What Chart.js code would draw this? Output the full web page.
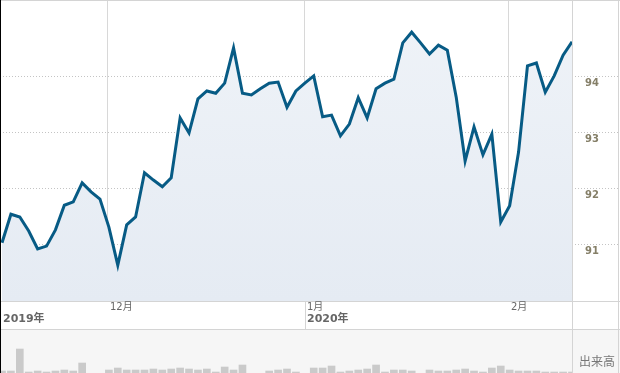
<!DOCTYPE html>
<html lang="ja">
<head>
<meta charset="utf-8">
<title>チャート</title>
<script src="https://cdn.jsdelivr.net/npm/chart.js@4.4.1/dist/chart.umd.min.js"></script>
<style>
    html, body { margin: 0; padding: 0; background: #fff; }
    #wrap { position: relative; width: 620px; height: 373px; overflow: hidden; }
    #priceCanvas { position: absolute; left: 0; top: 0; }
    #volCanvas { position: absolute; left: 0; top: 329px; background: #f6f6f6; }
    #leftEdge { position: absolute; left: 0; top: 0; width: 1px; height: 373px; background: #000; }
</style>
</head>
<body>
<div id="wrap">
    <canvas id="priceCanvas" width="620" height="329"></canvas>
    <canvas id="volCanvas" width="620" height="44"></canvas>
    <div id="leftEdge"></div>
</div>
<script>
// 終値 (営業日ごと)
const closes = [
    91.04, 91.55, 91.50, 91.25, 90.93, 90.98, 91.27, 91.71, 91.77, 92.11,
    91.95, 91.82, 91.32, 90.64, 91.36, 91.50, 92.29, 92.16, 92.04, 92.20,
    93.27, 93.00, 93.61, 93.75, 93.71, 93.89, 94.52, 93.71, 93.68, 93.79,
    93.89, 93.91, 93.46, 93.75, 93.89, 94.02, 93.29, 93.32, 92.95, 93.16,
    93.63, 93.27, 93.79, 93.89, 93.96, 94.61, 94.80, 94.61, 94.41, 94.57,
    94.48, 93.64, 92.50, 93.11, 92.61, 92.98, 91.41, 91.70, 92.66, 94.20,
    94.25, 93.73, 94.02, 94.39, 94.63
];

// 出来高
const volumes = [
    9, 9, 31, 8, 9, 8, 9, 10, 9, 17,
    5, 5, 10, 12, 10, 10, 10, 11, 10, 11,
    12, 11, 10, 11, 8, 13, 10, 15, 5, 5,
    9, 10, 11, 8, 5, 12, 12, 14, 8, 9,
    10, 11, 15, 8, 10, 10, 9, 5, 10, 9,
    9, 10, 11, 9, 8, 12, 14, 10, 9, 9,
    9, 8, 8, 8, 8
];

// 目盛り
const priceTicks = [91, 92, 93, 94];
const monthTicks = [11.9, 34, 56.9];
const monthLabels = ['12月', '1月', '2月'];
const yearTicks = [-0.225, 34];
const yearLabels = ['2019年', '2020年'];

const xMin = -0.225;
const xMax = 64;

const jpFont = '"DejaVu Sans", "Noto Sans CJK JP", sans-serif';

// 枠線とラベル (価格チャート)
const priceDecor = {
    id: 'priceDecor',
    afterDraw(chart) {
        const ctx = chart.ctx;
        const area = chart.chartArea;
        const xs = chart.scales.x;
        const ys = chart.scales.y;
        const W = chart.width;
        const H = chart.height;
        ctx.save();

        ctx.strokeStyle = '#d4d4d4';
        ctx.lineWidth = 1;
        ctx.setLineDash([]);
        ctx.beginPath();
        ctx.moveTo(0, 0.5); ctx.lineTo(W, 0.5);
        ctx.moveTo(0, area.bottom + 0.5); ctx.lineTo(W, area.bottom + 0.5);
        ctx.moveTo(area.right + 0.5, 0); ctx.lineTo(area.right + 0.5, H);
        ctx.moveTo(W - 1.5, 0); ctx.lineTo(W - 1.5, H);
        // 年の区切り線
        yearTicks.slice(1).forEach(v => {
            const px = Math.round(xs.getPixelForValue(v)) + 0.5;
            ctx.moveTo(px, area.bottom); ctx.lineTo(px, H);
        });
        ctx.stroke();

        // 右側の価格ラベル
        ctx.fillStyle = '#857f68';
        ctx.font = 'bold 10px "DejaVu Sans", sans-serif';
        ctx.textAlign = 'left';
        ctx.textBaseline = 'middle';
        priceTicks.forEach(v => {
            ctx.fillText(String(v), 585, ys.getPixelForValue(v) + 6);
        });

        // 月ラベル
        ctx.fillStyle = '#666';
        ctx.font = '10px ' + jpFont;
        monthTicks.forEach((v, i) => {
            ctx.fillText(monthLabels[i], Math.round(xs.getPixelForValue(v)) + 2, area.bottom + 6.5);
        });

        // 年ラベル
        ctx.font = 'bold 11px ' + jpFont;
        yearTicks.forEach((v, i) => {
            const px = Math.max(Math.round(xs.getPixelForValue(v)), 1);
            ctx.fillText(yearLabels[i], px + 2, area.bottom + 18);
        });

        ctx.restore();
    }
};

// 枠線とラベル (出来高)
const volDecor = {
    id: 'volDecor',
    afterDraw(chart) {
        const ctx = chart.ctx;
        const area = chart.chartArea;
        const W = chart.width;
        const H = chart.height;
        ctx.save();
        ctx.strokeStyle = '#d4d4d4';
        ctx.lineWidth = 1;
        ctx.beginPath();
        ctx.moveTo(0, 0.5); ctx.lineTo(W, 0.5);
        ctx.moveTo(area.right + 0.5, 0); ctx.lineTo(area.right + 0.5, H);
        ctx.moveTo(W - 1.5, 0); ctx.lineTo(W - 1.5, H);
        ctx.stroke();

        ctx.fillStyle = '#777';
        ctx.font = '12px "Noto Sans CJK JP", sans-serif';
        ctx.textAlign = 'left';
        ctx.textBaseline = 'middle';
        ctx.fillText('出来高', 579, 32);
        ctx.restore();
    }
};

function fillGradient(context) {
    const chart = context.chart;
    const a = chart.chartArea;
    if (!a) return '#e9eef5';
    const g = chart.ctx.createLinearGradient(0, a.top, 0, a.bottom);
    g.addColorStop(0, '#eff3f8');
    g.addColorStop(1, '#e5ebf3');
    return g;
}

const priceChart = new Chart(document.getElementById('priceCanvas'), {
    type: 'line',
    data: {
        datasets: [{
            data: closes.map((v, i) => ({ x: i, y: v })),
            borderColor: '#075b85',
            borderWidth: 3,
            borderJoinStyle: 'miter',
            backgroundColor: fillGradient,
            fill: 'start',
            pointRadius: 0,
            tension: 0
        }]
    },
    options: {
        responsive: false,
        animation: false,
        events: [],
        layout: { padding: { top: 1, left: 0, right: 0, bottom: 0 } },
        plugins: {
            legend: { display: false },
            tooltip: { enabled: false }
        },
        scales: {
            x: {
                type: 'linear',
                min: xMin,
                max: xMax,
                afterBuildTicks: s => { s.ticks = monthTicks.map(v => ({ value: v })); },
                afterFit: s => { s.height = 28; },
                ticks: { display: false },
                grid: { color: '#d8d8d8', drawTicks: false },
                border: { display: false, dash: [] }
            },
            y: {
                position: 'right',
                min: 90,
                max: 95.357,
                afterBuildTicks: s => { s.ticks = priceTicks.map(v => ({ value: v })); },
                afterFit: s => { s.width = 48; },
                ticks: { display: false },
                grid: {
                    color: '#c4c4c4',
                    drawTicks: true,
                    tickLength: 48,
                    tickColor: '#c4c4c4',
                    tickBorderDash: [1, 2]
                },
                border: { display: false, dash: [1, 2] }
            }
        }
    },
    plugins: [priceDecor]
});

const volChart = new Chart(document.getElementById('volCanvas'), {
    type: 'bar',
    data: {
        datasets: [{
            data: volumes.map((v, i) => ({ x: i, y: v })),
            backgroundColor: '#cacaca',
            borderWidth: 0,
            barThickness: 7
        }]
    },
    options: {
        responsive: false,
        animation: false,
        events: [],
        layout: { padding: { top: 1, left: 0, right: 48, bottom: 0 } },
        plugins: {
            legend: { display: false },
            tooltip: { enabled: false }
        },
        scales: {
            x: { type: 'linear', min: xMin, max: xMax, offset: false, display: false },
            y: { min: 7, max: 50, display: false }
        }
    },
    plugins: [volDecor]
});
</script>
</body>
</html>
